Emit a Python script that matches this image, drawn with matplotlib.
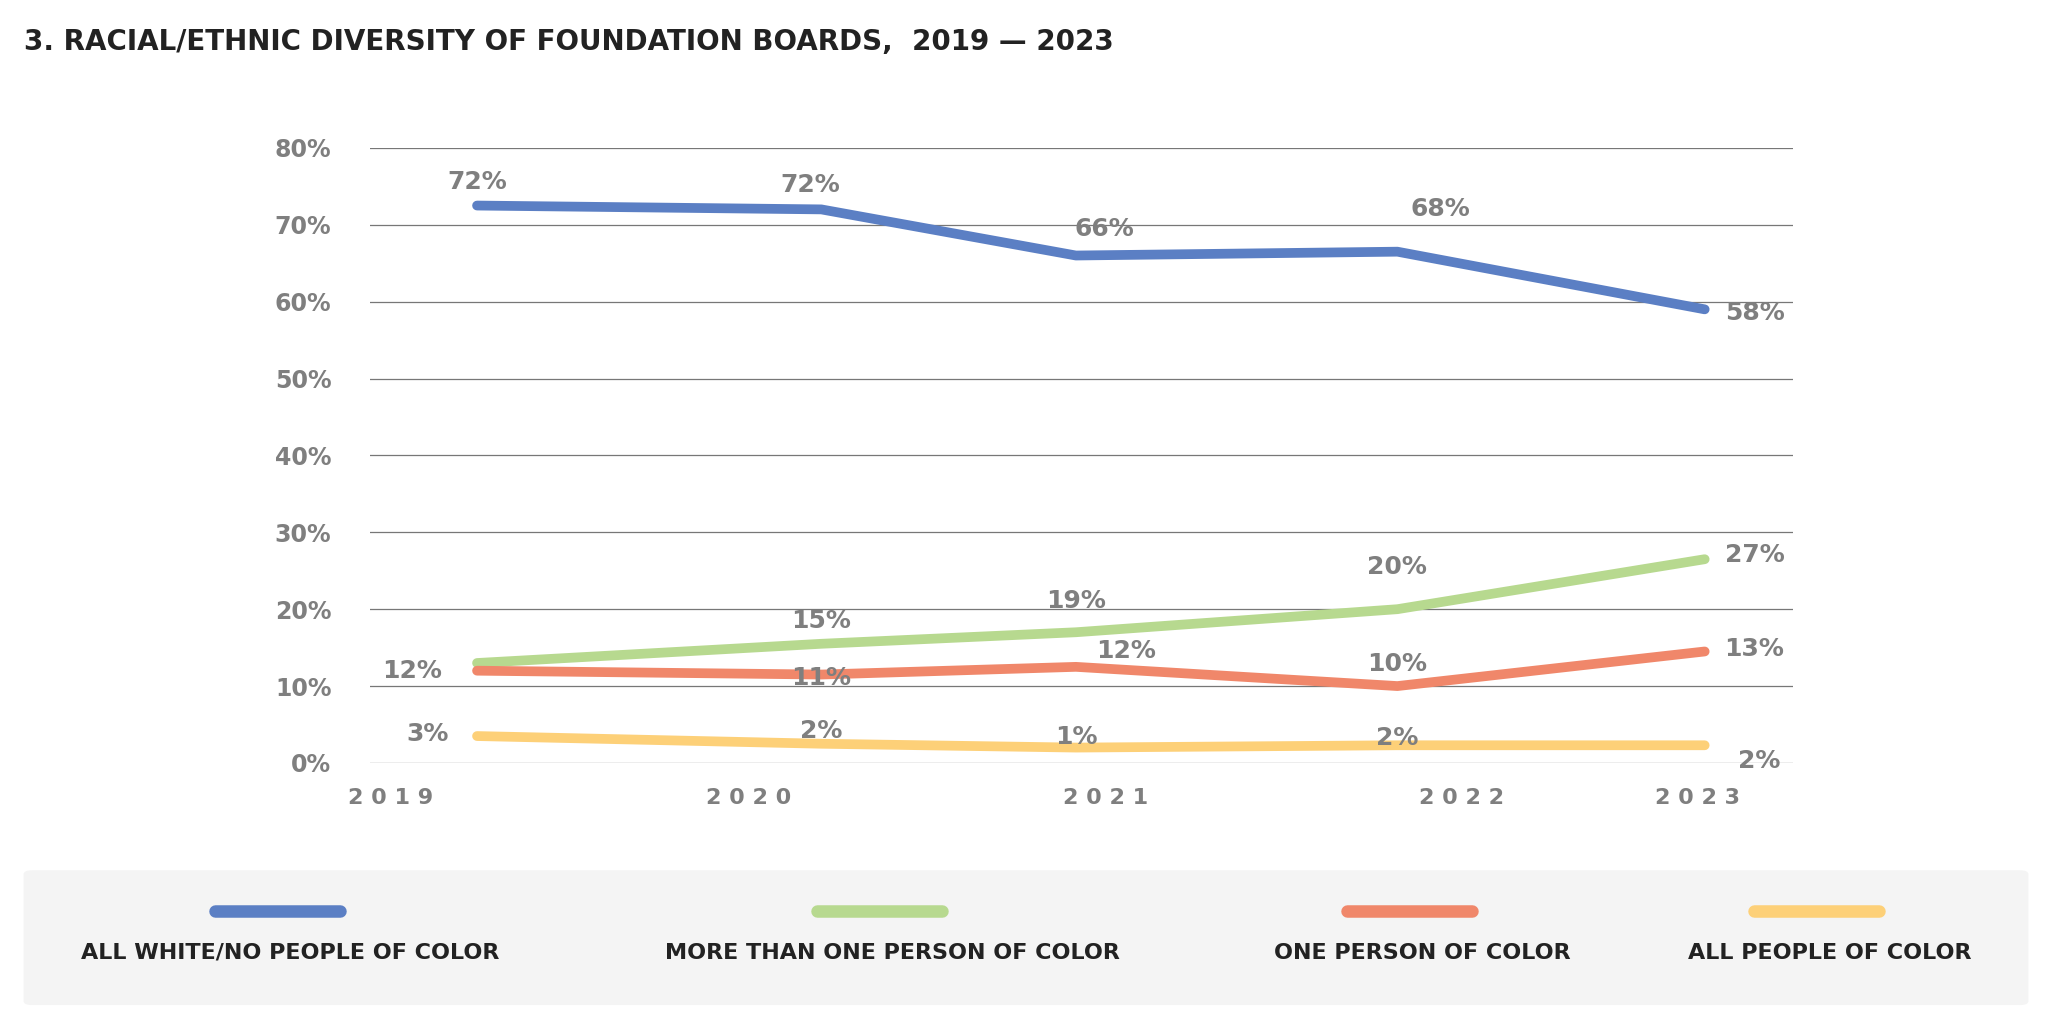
import matplotlib
matplotlib.use("Agg")
import matplotlib.pyplot as plt
from matplotlib.patches import FancyBboxPatch

plt.rcParams["font.family"] = ["DejaVu Sans"]

years = ["2019", "2020", "2021", "2022", "2023"]
series_names = ["ALL WHITE/NO PEOPLE OF COLOR", "MORE THAN ONE PERSON OF COLOR",
                "ONE PERSON OF COLOR", "ALL PEOPLE OF COLOR"]
white = [72.5, 72, 66, 66.5, 59]
more_than_one = [13, 15.5, 17, 20, 26.5]
one_person = [12, 11.5, 12.5, 10, 14.5]
all_poc = [3.5, 2.5, 2, 2.3, 2.3]
label_text = [
    ["72%", "72%", "66%", "68%", "58%"],
    ["", "15%", "19%", "20%", "27%"],
    ["12%", "11%", "12%", "10%", "13%"],
    ["3%", "2%", "1%", "2%", "2%"],
]
colors = ["#5b7fc4", "#b7d98f", "#f0876a", "#fdd078"]
gray = "#7f7f7f"

W, H = 1568, 784  # layout reference grid


def fx(px):
    return px / W


def fy(py):
    return 1 - py / H


fig = plt.figure(figsize=(20.52, 10.26), dpi=100)
ax = fig.add_axes([fx(283), fy(583), fx(1370) - fx(283), fy(113) - fy(583)])

point_x = [0.075, 0.317, 0.496, 0.722, 0.938]
tick_x = [0.014, 0.266, 0.517, 0.767, 0.933]

values = [white, more_than_one, one_person, all_poc]
for vals, color in zip(values, colors):
    ax.plot(point_x, vals, color=color, lw=7, solid_capstyle="round", zorder=3)

# label offsets in (x axis-fraction, y value)
offsets = [
    [(0.0, 3), (-0.008, 3.2), (0.02, 3.4), (0.03, 5.5), (0.035, -0.5)],
    [(0, 0), (0.0, 3), (0.0, 4), (0.0, 5.5), (0.035, 0.5)],
    [(-0.046, -0.1), (0.0, -0.5), (0.035, 2.0), (0.0, 2.9), (0.035, 0.3)],
    [(-0.035, 0.3), (0.0, 1.6), (0.0, 1.4), (0.0, 0.9), (0.038, -2.0)],
]
for row, vals, offs in zip(label_text, values, offsets):
    for x, v, t, (dx, dy) in zip(point_x, vals, row, offs):
        if t:
            ax.text(x + dx, v + dy, t, ha="center", va="center", fontsize=18,
                    fontweight="bold", color=gray, zorder=4)

ax.set_xlim(0, 1)
ax.set_ylim(0, 80)
ax.set_yticks(range(0, 81, 10))
ax.set_yticklabels([f"{v}%" for v in range(0, 81, 10)], fontsize=17,
                   fontweight="bold", color=gray)
ax.set_xticks(tick_x)
ax.set_xticklabels([" ".join(y) for y in years], fontsize=16, fontweight="bold", color=gray)
ax.tick_params(axis="x", length=0, pad=18)
ax.tick_params(axis="y", length=0, pad=28)
ax.grid(True, axis="y", color="#777777", lw=0.9)
for s in ax.spines.values():
    s.set_visible(False)

fig.text(fx(18), fy(32), "3. RACIAL/ETHNIC DIVERSITY OF FOUNDATION BOARDS,  2019 \u2014 2023",
         fontsize=20, fontweight="bold", color="#222222", va="center")

# legend panel
fig.patches.append(FancyBboxPatch((fx(18), fy(768)), fx(1550) - fx(18), fy(665) - fy(768),
                                  boxstyle="round,pad=0,rounding_size=0.004",
                                  transform=fig.transFigure, facecolor="#f4f4f4",
                                  edgecolor="none", zorder=0))
legend_x = [212, 672, 1077, 1388]
for cx, name, color in zip(legend_x, series_names, colors):
    fig.add_artist(plt.Line2D([fx(cx - 48), fx(cx + 48)], [fy(696), fy(696)],
                              color=color, lw=9, solid_capstyle="round",
                              transform=fig.transFigure))
    fig.text(fx(cx + 10), fy(728), name, ha="center", va="center", fontsize=16,
             fontweight="bold", color="#222222")

fig.savefig("out.png", dpi=100)
